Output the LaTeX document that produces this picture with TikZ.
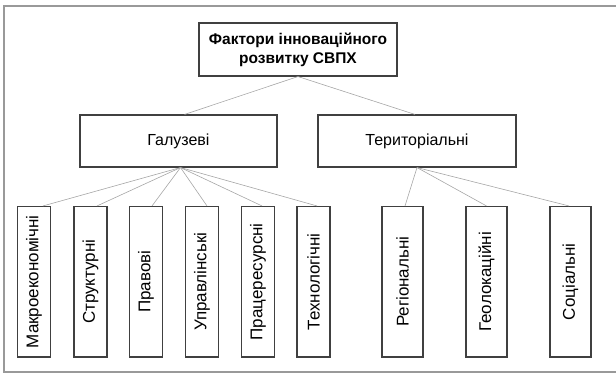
\documentclass[tikz,border=0pt]{standalone}
\usepackage{fontspec}
\setmainfont{Liberation Sans}
\usepackage{graphicx}

\tikzset{
  boxnode/.style = {draw = black!75, line width = 1.1pt, fill = white, inner sep = 0pt,
                    font = \fontsize{16}{18}\selectfont, align = center},
  leafnode/.style = {boxnode, minimum height = 150.5pt, font = \fontsize{17}{19}\selectfont},
  link/.style = {draw = black!35, line width = 0.6pt}
}

\begin{document}
\begin{tikzpicture}[x = 1pt, y = -1pt]
        \useasboundingbox (0, 0) rectangle (616, 374);
        % outer frame (right side is cut off)
        \draw [black!40, line width = 2pt] (616, 6) -- (4, 6) -- (4, 372) -- (616, 372);

        \node [boxnode, minimum width = 198pt, minimum height = 53pt,
               font = \fontsize{15.5}{19}\selectfont\bfseries] (root) at (298, 49.5)
              {Фактори інноваційного\\розвитку СВПХ};

        \node [boxnode, minimum width = 197pt, minimum height = 52pt] (gal) at (178.5, 141) {Галузеві};
        \node [boxnode, minimum width = 198pt, minimum height = 52pt] (ter) at (417, 141) {Територіальні};

        \draw [link] (root.south) -- ([xshift = 6pt] gal.north);
        \draw [link] (root.south) -- ([xshift = -2pt] ter.north);

        % galuzevi
        \node [leafnode, minimum width = 33pt] (makro) at (34, 281.75) {\rotatebox{90}{Макроекономічні}};
        \node [leafnode, minimum width = 33pt] (strukt) at (90.5, 281.75) {\rotatebox{90}{Структурні}};
        \node [leafnode, minimum width = 33pt] (prav) at (146, 281.75) {\rotatebox{90}{Правові}};
        \node [leafnode, minimum width = 33pt] (uprav) at (202, 281.75) {\rotatebox{90}{Управлінські}};
        \node [leafnode, minimum width = 33pt] (prats) at (258, 281.75) {\rotatebox{90}{Працересурсні}};
        \node [leafnode, minimum width = 33pt] (tekhn) at (313.5, 281.75) {\rotatebox{90}{Технологічні}};

        \draw [link] ([xshift = 2pt] gal.south) -- ([xshift = 9pt] makro.north);
        \draw [link] ([xshift = 2pt] gal.south) -- ([xshift = 6.5pt] strukt.north);
        \draw [link] ([xshift = 2pt] gal.south) -- ([xshift = 6pt] prav.north);
        \draw [link] ([xshift = 2pt] gal.south) -- ([xshift = 5pt] uprav.north);
        \draw [link] ([xshift = 2pt] gal.south) -- ([xshift = 4pt] prats.north);
        \draw [link] ([xshift = 2pt] gal.south) -- ([xshift = 3.5pt] tekhn.north);

        % terytorialni
        \node [leafnode, minimum width = 41pt] (region) at (402.5, 281.75) {\rotatebox{90}{Регіональні}};
        \node [leafnode, minimum width = 41pt] (geolok) at (486.5, 281.75) {\rotatebox{90}{Геолокаційні}};
        \node [leafnode, minimum width = 41pt] (sots) at (570.5, 281.75) {\rotatebox{90}{Соціальні}};

        \draw [link] (ter.south) -- ([xshift = 2.5pt] region.north);
        \draw [link] (ter.south) -- (geolok.north);
        \draw [link] (ter.south) -- ([xshift = -1.5pt] sots.north);
      \end{tikzpicture}
\end{document}
